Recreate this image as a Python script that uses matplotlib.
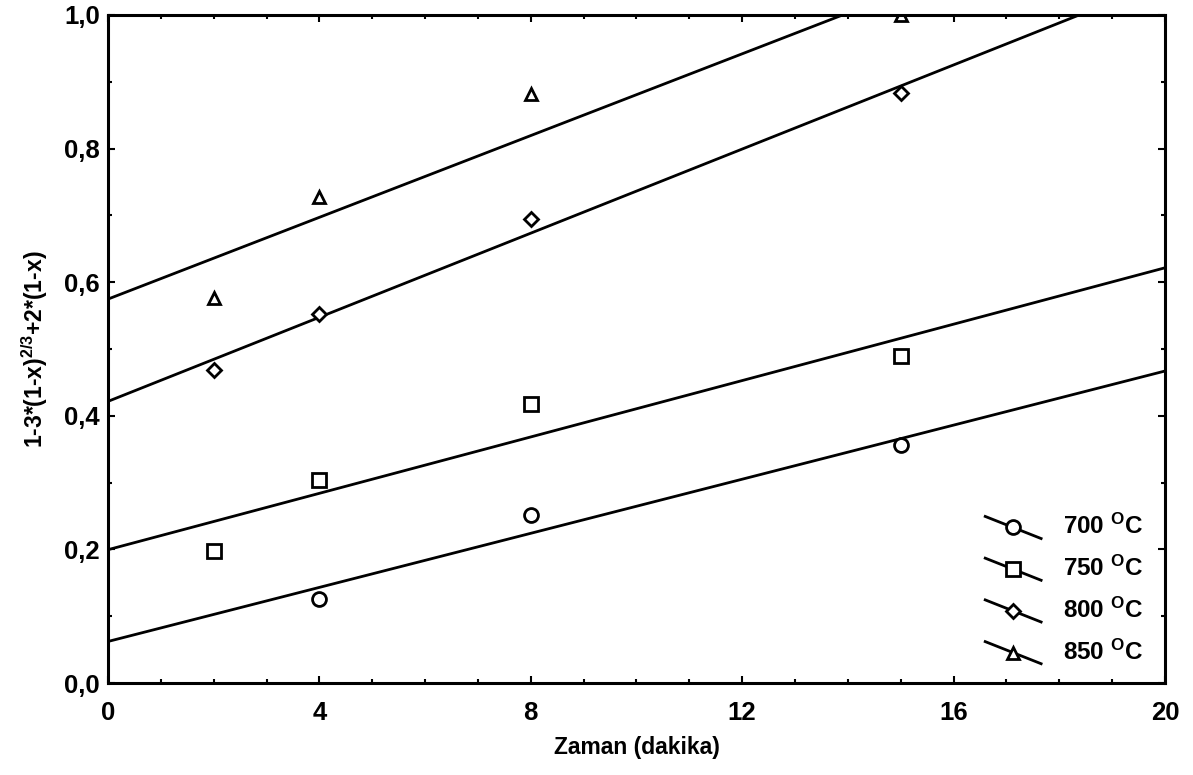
import numpy as np
import matplotlib
matplotlib.use("Agg")
import matplotlib.pyplot as plt
from matplotlib.lines import Line2D
from matplotlib.legend_handler import HandlerBase
from matplotlib.ticker import MultipleLocator, FuncFormatter

plt.rcParams['font.family'] = ['Liberation Sans', 'DejaVu Sans']
plt.rcParams['mathtext.fontset'] = 'custom'
plt.rcParams['mathtext.rm'] = 'Liberation Sans:bold'
plt.rcParams['mathtext.it'] = 'Liberation Sans:bold'
plt.rcParams['mathtext.bf'] = 'Liberation Sans:bold'

# data
temps = ['700', '750', '800', '850']
t_700 = [4, 8, 15]
y_700 = [0.126, 0.251, 0.356]
t_750 = [2, 4, 8, 15]
y_750 = [0.198, 0.304, 0.418, 0.490]
t_800 = [2, 4, 8, 15]
y_800 = [0.469, 0.552, 0.695, 0.883]
t_850 = [2, 4, 8, 15]
y_850 = [0.576, 0.728, 0.882, 1.0]

series = [(t_700, y_700, 'o', 10),
          (t_750, y_750, 's', 10),
          (t_800, y_800, 'D', 7.5),
          (t_850, y_850, '^', 9)]


class DiagHandler(HandlerBase):
    def create_artists(self, legend, orig, xdescent, ydescent, width, height, fontsize, trans):
        ln = Line2D([0, width], [height * 1.05, -height * 0.25], color='black', lw=2)
        mk = Line2D([width * 0.5], [height * 0.4], marker=orig.get_marker(), ls='none',
                    mfc='white', mec='black', mew=2, ms=orig.get_markersize())
        ln.set_transform(trans)
        mk.set_transform(trans)
        return [ln, mk]


fig = plt.figure(figsize=(11.93, 7.75), dpi=100)
ax = fig.add_axes([0.0905, 0.1187, 0.886, 0.862])

xfit = np.array([0, 20])
handles = []
for (t, y, m, ms), name in zip(series, temps):
    k, b = np.polyfit(t, y, 1)
    ax.plot(xfit, k * xfit + b, color='black', lw=2.0)
    ax.plot(t, y, ls='none', marker=m, ms=ms, mfc='white', mec='black', mew=2.0)
    handles.append(Line2D([], [], marker=m, ms=ms, label=name + r' $^{\mathrm{O}}$C'))

ax.set_xlim(0, 20)
ax.set_ylim(0, 1.0)
ax.xaxis.set_major_locator(MultipleLocator(4))
ax.xaxis.set_minor_locator(MultipleLocator(1))
ax.yaxis.set_major_locator(MultipleLocator(0.2))
ax.yaxis.set_minor_locator(MultipleLocator(0.1))
ax.yaxis.set_major_formatter(FuncFormatter(lambda v, p: f'{v:.1f}'.replace('.', ',')))
ax.tick_params(which='both', direction='in', top=True, right=True, width=1.5)
ax.tick_params(which='major', length=5, labelsize=18.5)
ax.tick_params(axis='x', which='major', pad=13)
ax.tick_params(axis='y', which='major', pad=6)
ax.tick_params(which='minor', length=3)
for lab in ax.get_xticklabels() + ax.get_yticklabels():
    lab.set_fontweight('bold')
for s in ax.spines.values():
    s.set_linewidth(2.2)

ax.set_xlabel('Zaman (dakika)', fontsize=16.5, fontweight='bold', labelpad=8)
ax.set_ylabel(r'1-3*(1-x)$^{2/3}$+2*(1-x)', fontsize=16.5, fontweight='bold', labelpad=10)

leg = ax.legend(handles=handles, loc='lower right', bbox_to_anchor=(1.0, -0.005),
                frameon=False, handler_map={Line2D: DiagHandler()},
                prop={'size': 17.5, 'weight': 'bold'}, handlelength=2.3,
                labelspacing=0.68, handletextpad=0.9)

fig.savefig('out.png', dpi=100)
